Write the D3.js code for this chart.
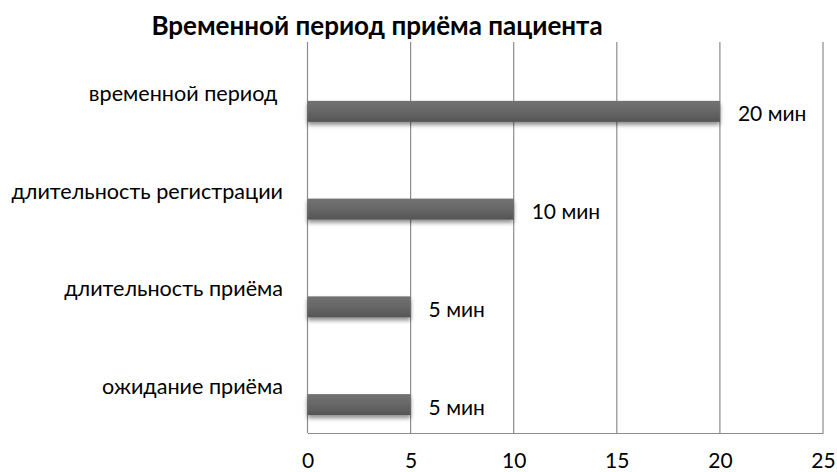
<!DOCTYPE html>
<html>
<head>
<meta charset="utf-8">
<script src="https://cdn.jsdelivr.net/npm/d3@7"></script>
<style>
  html, body { margin: 0; padding: 0; background: #fff; }
  svg { display: block; }
  text { font-family: Lato, "Open Sans", sans-serif; fill: #000; }
</style>
</head>
<body>
<svg id="chart" width="837" height="472"></svg>
<script>
// Categories listed bottom-to-top, as in the source workbook
const categories = ["ожидание приёма", "длительность приёма", "длительность регистрации", "временной период "];
const minutes = [5, 5, 10, 20];
const unit = "мин";
const xTicks = [0, 5, 10, 15, 20, 25];
const title = "Временной период приёма пациента";

const svg = d3.select("#chart");
const plot = { left: 307.5, right: 823, top: 42, bottom: 433 };

const x = d3.scaleLinear().domain([0, 25]).range([plot.left, plot.right]);
const y = d3.scaleBand()
  .domain(categories.slice().reverse())
  .range([plot.top, plot.bottom]);

const rows = categories.map((c, i) => ({ cat: c, v: minutes[i] }));

// Bar fill and soft drop shadow
const defs = svg.append("defs");
const grad = defs.append("linearGradient").attr("id", "barFill")
  .attr("x1", 0).attr("y1", 0).attr("x2", 0).attr("y2", 1);
grad.append("stop").attr("offset", "0%").attr("stop-color", "#727272");
grad.append("stop").attr("offset", "45%").attr("stop-color", "#686868");
grad.append("stop").attr("offset", "100%").attr("stop-color", "#555555");
const sh = defs.append("filter").attr("id", "shadow")
  .attr("x", "-5%").attr("y", "-40%").attr("width", "110%").attr("height", "200%");
sh.append("feDropShadow").attr("dx", 0).attr("dy", 3).attr("stdDeviation", 2.2)
  .attr("flood-color", "#000").attr("flood-opacity", 0.45);

// Title
svg.append("text")
  .attr("x", 377).attr("y", 35)
  .attr("text-anchor", "middle")
  .style("font-weight", "bold").style("font-size", "26px")
  .text(title);

// Vertical gridlines
svg.append("g").selectAll("line").data(xTicks).join("line")
  .attr("x1", d => x(d)).attr("x2", d => x(d))
  .attr("y1", plot.top).attr("y2", plot.bottom)
  .attr("stroke", "#8c8c8c").attr("stroke-width", 1.2);

// Bottom axis with tick labels
const xAxis = d3.axisBottom(x).tickValues(xTicks).tickSize(0).tickPadding(0);
const gx = svg.append("g").attr("transform", `translate(0,${plot.bottom})`).call(xAxis);
gx.select(".domain").attr("stroke", "#8c8c8c").attr("stroke-width", 1.2);
gx.selectAll(".tick text")
  .attr("y", 35).attr("dy", null)
  .style("font-family", "Lato, 'Open Sans', sans-serif")
  .style("font-size", "21px").attr("fill", "#000");

// Category labels, right-aligned left of the plot (trailing spaces kept)
svg.append("g").selectAll("text").data(rows).join("text")
  .attr("x", 283)
  .attr("y", d => y(d.cat) + y.bandwidth() / 2 + 10)
  .attr("text-anchor", "end")
  .style("font-size", "21.6px")
  .style("white-space", "pre")
  .text(d => d.cat);

// Bars sit in the lower part of each band
const barH = 21, barOff = 10;
svg.append("g").selectAll("rect").data(rows).join("rect")
  .attr("x", x(0))
  .attr("y", d => y(d.cat) + y.bandwidth() / 2 + barOff)
  .attr("width", d => x(d.v) - x(0))
  .attr("height", barH)
  .attr("fill", "url(#barFill)")
  .attr("filter", "url(#shadow)");

// Value labels
svg.append("g").selectAll("text").data(rows).join("text")
  .attr("x", d => x(d.v) + 18)
  .attr("y", d => y(d.cat) + y.bandwidth() / 2 + barOff + barH / 2 + 10)
  .style("font-size", "21px")
  .text(d => `${d.v} ${unit}`);
</script>
</body>
</html>
